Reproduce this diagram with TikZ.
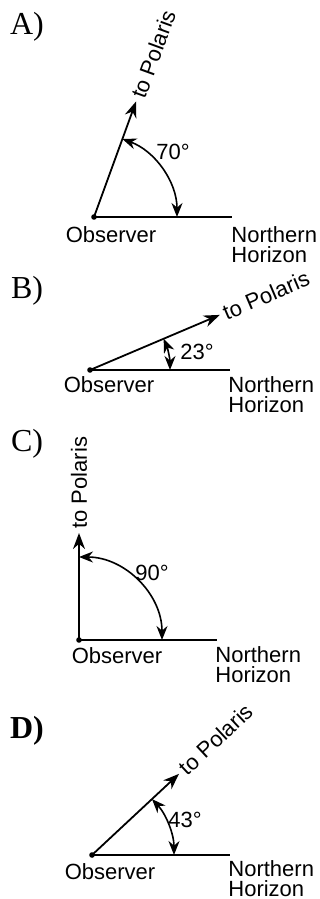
\documentclass[tikz,border=0pt]{standalone}
\usepackage{fontspec}
\setmainfont{Liberation Serif}
\setsansfont{Liberation Sans}
\usetikzlibrary{arrows.meta,calc}

\begin{document}
\begin{tikzpicture}[x=0.5pt, y=0.5pt,
    panel/.style={font=\fontsize{16}{18}\selectfont, inner sep=0pt},
    lbl/.style={font=\sffamily\fontsize{11}{10}\selectfont, inner sep=0pt, align=left},
    star/.style={lbl, anchor=west, inner sep=2pt},
    ray/.style={-{Stealth[length=8pt,width=6pt]}, line width=0.9pt},
    horizon/.style={line width=0.9pt},
    anglearc/.style={{Stealth[length=7pt,width=5.5pt]}-{Stealth[length=7pt,width=5.5pt]}, line width=0.8pt}
]
\useasboundingbox (0,0) rectangle (320,-899);

% A) 70 degrees
\node[panel] (labA) at (27,-27) {A)};
\coordinate (oA) at (94,-217);
\coordinate (hA) at (232,-217);
\coordinate (pA) at ($(oA)+(70:123)$);
\fill (oA) circle (1.4pt);
\draw[horizon] (oA) -- (hA);
\draw[ray] (oA) -- (pA);
\draw[anglearc] ($(oA)+(70:83)$) arc[start angle=70, end angle=0, radius=41.5pt];
\node[star, rotate=70] (tA) at (pA) {to Polaris};
\node[lbl] (degA) at (173,-152) {70°};
\node[lbl] (obsA) at (111,-235) {Observer};
\node[lbl, anchor=north west] (nA) at (231,-226) {Northern\\Horizon};

% B) 23 degrees
\node[panel] (labB) at (27,-291) {B)};
\coordinate (oB) at (90,-370);
\coordinate (hB) at (230,-370);
\coordinate (pB) at ($(oB)+(23:141)$);
\fill (oB) circle (1.4pt);
\draw[horizon] (oB) -- (hB);
\draw[ray] (oB) -- (pB);
\draw[anglearc] ($(oB)+(23:80)$) arc[start angle=23, end angle=0, radius=40pt];
\node[star, rotate=23] (tB) at (pB) {to Polaris};
\node[lbl] (degB) at (197,-352) {23°};
\node[lbl] (obsB) at (109,-385) {Observer};
\node[lbl, anchor=north west] (nB) at (228,-376) {Northern\\Horizon};

% C) 90 degrees
\node[panel] (labC) at (27,-444) {C)};
\coordinate (oC) at (79,-640);
\coordinate (hC) at (217,-640);
\coordinate (pC) at ($(oC)+(90:107)$);
\fill (oC) circle (1.4pt);
\draw[horizon] (oC) -- (hC);
\draw[ray] (oC) -- (pC);
\draw[anglearc] ($(oC)+(90:83)$) arc[start angle=90, end angle=0, radius=41.5pt];
\node[star, rotate=90] (tC) at (pC) {to Polaris};
\node[lbl] (degC) at (152,-573) {90°};
\node[lbl] (obsC) at (117,-656) {Observer};
\node[lbl, anchor=north west] (nC) at (215,-646) {Northern\\Horizon};

% D) 43 degrees
\node[panel, font=\bfseries\fontsize{16}{18}\selectfont] (labD) at (27,-731) {D)};
\coordinate (oD) at (92,-855);
\coordinate (hD) at (230,-855);
\coordinate (pD) at ($(oD)+(43:119)$);
\fill (oD) circle (1.4pt);
\draw[horizon] (oD) -- (hD);
\draw[ray] (oD) -- (pD);
\draw[anglearc] ($(oD)+(43:82)$) arc[start angle=43, end angle=0, radius=41pt];
\node[star, rotate=43] (tD) at (pD) {to Polaris};
\node[lbl] (degD) at (185,-820) {43°};
\node[lbl] (obsD) at (110,-872) {Observer};
\node[lbl, anchor=north west] (nD) at (228,-860) {Northern\\Horizon};
\end{tikzpicture}
\end{document}
